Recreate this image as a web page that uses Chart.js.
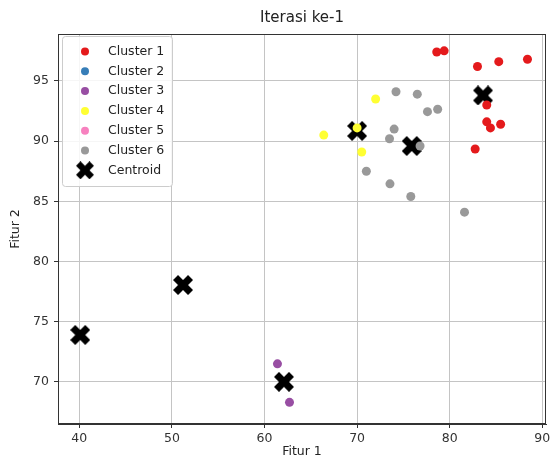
<!DOCTYPE html>
<html><head><meta charset="utf-8">
<script src="https://cdn.jsdelivr.net/npm/chart.js@4.4.0/dist/chart.umd.min.js"></script>
<style>html,body{margin:0;padding:0;background:#fff;}#wrap{width:557px;height:463px;}</style>
</head><body><div id="wrap"><canvas id="c" width="557" height="463"></canvas></div>
<script>
const titleText = 'Iterasi ke-1';
const xTitle = 'Fitur 1';
const yTitle = 'Fitur 2';
const seriesLabels = ['Cluster 1', 'Cluster 2', 'Cluster 3', 'Cluster 4', 'Cluster 5', 'Cluster 6', 'Centroid'];
const seriesColors = ['#e41a1c', '#377eb8', '#984ea3', '#ffff33', '#f781bf', '#999999', '#000000'];

const cluster1X = [78.6, 79.4, 83.0, 85.3, 88.4, 84.0, 84.0, 84.4, 85.5, 82.75];
const cluster1Y = [97.4, 97.5, 96.2, 96.6, 96.8, 93.0, 91.6, 91.1, 91.4, 89.35];
const cluster2X = [];
const cluster2Y = [];
const cluster3X = [61.4, 62.7];
const cluster3Y = [71.5, 68.3];
const cluster4X = [72.0, 66.4, 70.5, 70.0];
const cluster4Y = [93.5, 90.5, 89.1, 91.1];
const cluster5X = [];
const cluster5Y = [];
const cluster6X = [74.2, 76.5, 77.6, 78.7, 74.0, 73.5, 71.0, 73.55, 75.8, 81.6, 76.8];
const cluster6Y = [94.1, 93.9, 92.45, 92.65, 91.0, 90.2, 87.5, 86.45, 85.4, 84.1, 89.6];
const centroidX = [83.6, 40.1, 62.1, 70.0, 51.2, 75.9];
const centroidY = [93.8, 73.9, 70.0, 90.85, 78.05, 89.6];

const xTicks = [40, 50, 60, 70, 80, 90];
const yTicks = [70, 75, 80, 85, 90, 95];

function pts(xs, ys) { return xs.map((x, i) => ({x: x, y: ys[i]})); }

function makeX(size) {
  const c = document.createElement('canvas');
  c.width = size; c.height = size;
  const g = c.getContext('2d');
  const p = [[0.25,0],[0.5,0.25],[0.75,0],[1,0.25],[0.75,0.5],[1,0.75],[0.75,1],[0.5,0.75],[0.25,1],[0,0.75],[0.25,0.5],[0,0.25]];
  g.fillStyle = '#000';
  g.beginPath();
  p.forEach((q, i) => { const x = q[0]*size, y = q[1]*size; if (i) g.lineTo(x, y); else g.moveTo(x, y); });
  g.closePath();
  g.fill();
  return c;
}
const xMarker = makeX(20);
const xMarkerSmall = makeX(18);

const clusterXs = [cluster1X, cluster2X, cluster3X, cluster4X, cluster5X, cluster6X];
const clusterYs = [cluster1Y, cluster2Y, cluster3Y, cluster4Y, cluster5Y, cluster6Y];

const datasets = clusterXs.map((xs, i) => ({
  label: seriesLabels[i],
  data: pts(xs, clusterYs[i]),
  backgroundColor: seriesColors[i],
  borderColor: seriesColors[i],
  borderWidth: 0,
  pointRadius: 4.5,
  pointHoverRadius: 4.5
}));
datasets.push({
  label: seriesLabels[6],
  data: pts(centroidX, centroidY),
  pointStyle: xMarker,
  backgroundColor: '#000',
  borderColor: '#000',
  pointRadius: 10
});

const FONT = 'DejaVu Sans';

const framePlugin = {
  id: 'frameLegend',
  afterDraw(chart) {
    const ctx = chart.ctx;
    const a = chart.chartArea;
    ctx.save();
    ctx.strokeStyle = '#333';
    ctx.lineWidth = 1;
    ctx.strokeRect(Math.round(a.left) + 0.5, Math.round(a.top) + 0.5, Math.round(a.right - a.left) - 1, Math.round(a.bottom - a.top) - 1);
    // title
    ctx.fillStyle = '#222';
    ctx.font = '15px ' + FONT;
    ctx.textAlign = 'center';
    ctx.textBaseline = 'middle';
    ctx.fillText(titleText, (a.left + a.right) / 2, 18);
    // legend
    const lx = 62, ly = 36, lw = 110, lh = 150;
    ctx.fillStyle = 'rgba(255,255,255,0.85)';
    ctx.strokeStyle = '#cccccc';
    ctx.beginPath();
    if (ctx.roundRect) ctx.roundRect(lx + 0.5, ly + 0.5, lw, lh, 3); else ctx.rect(lx + 0.5, ly + 0.5, lw, lh);
    ctx.fill();
    ctx.stroke();
    ctx.font = '12.5px ' + FONT;
    ctx.textBaseline = 'middle';
    ctx.textAlign = 'left';
    chart.data.datasets.forEach((ds, i) => {
      const y = 51.5 + i * 19.8;
      const mx = 85;
      if (i < 6) {
        ctx.fillStyle = seriesColors[i];
        ctx.beginPath();
        ctx.arc(mx, y, 4, 0, Math.PI * 2);
        ctx.fill();
      } else {
        ctx.drawImage(xMarkerSmall, mx - 9, y - 9);
      }
      ctx.fillStyle = '#222';
      ctx.fillText(ds.label, 108, y);
    });
    ctx.restore();
  }
};

new Chart(document.getElementById('c'), {
  type: 'scatter',
  data: { datasets: datasets },
  options: {
    responsive: false,
    animation: false,
    devicePixelRatio: 1,
    layout: { padding: { top: 34, right: 4, left: 0, bottom: 0 } },
    plugins: {
      legend: { display: false },
      tooltip: { enabled: false },
      title: { display: false }
    },
    scales: {
      x: {
        type: 'linear', min: 37.7, max: 90.4,
        afterBuildTicks: s => { s.ticks = xTicks.map(v => ({ value: v })); },
        afterFit: s => { s.height = 39; },
        ticks: { color: '#333', font: { family: FONT, size: 12.5 }, padding: 3 },
        grid: { color: '#c4c4c4', lineWidth: 1, tickLength: 4, tickColor: '#333' },
        border: { color: '#333' },
        title: { display: true, text: xTitle, color: '#222', font: { family: FONT, size: 12.5 }, padding: { top: 4, bottom: 4 } }
      },
      y: {
        type: 'linear', min: 66.5, max: 98.9,
        afterBuildTicks: s => { s.ticks = yTicks.map(v => ({ value: v })); },
        afterFit: s => { s.width = 58; },
        ticks: { color: '#333', font: { family: FONT, size: 12.5 }, padding: 5 },
        grid: { color: '#c4c4c4', lineWidth: 1, tickLength: 4, tickColor: '#333' },
        border: { color: '#333' },
        title: { display: true, text: yTitle, color: '#222', font: { family: FONT, size: 12.5 }, padding: { top: 8.5, bottom: 4 } }
      }
    }
  },
  plugins: [framePlugin]
});
</script>
</body></html>
